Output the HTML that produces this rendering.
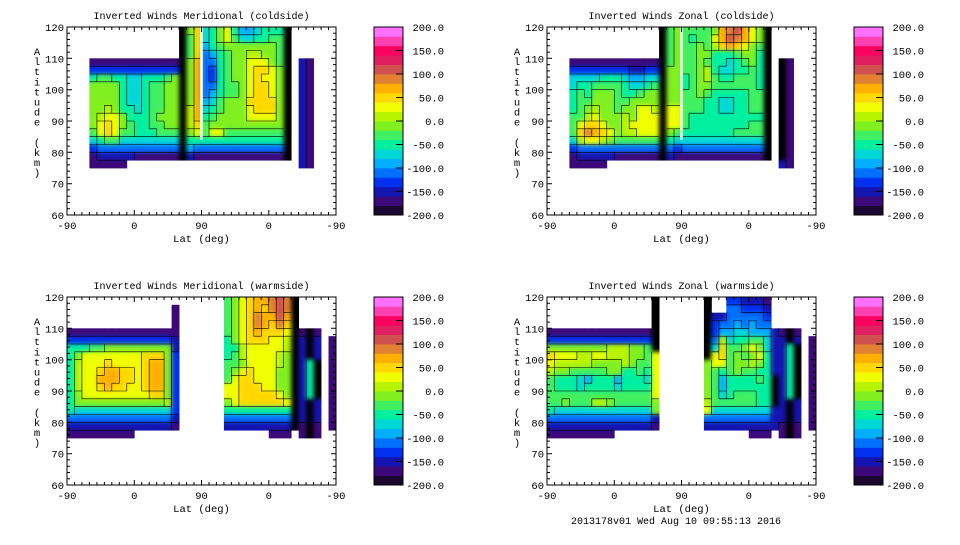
<!DOCTYPE html>
<html>
<head>
<meta charset="utf-8">
<style>
  html, body { margin: 0; padding: 0; background: #fff; }
  body { width: 960px; height: 540px; overflow: hidden; }
  svg text { font-family: "Liberation Mono", monospace; fill: #000; }
</style>
</head>
<body>
<svg id="fig" width="960" height="540" viewBox="0 0 960 540" xmlns="http://www.w3.org/2000/svg">
  <defs>
    <filter id="smooth" x="0" y="0" width="100%" height="100%" color-interpolation-filters="sRGB">
      <feGaussianBlur in="SourceGraphic" stdDeviation="2.2" result="b"/>
      <feComponentTransfer in="b" result="bo">
        <feFuncA type="linear" slope="30" intercept="0"/>
      </feComponentTransfer>
      <feComposite in="bo" in2="SourceAlpha" operator="in"/>
    </filter>
  </defs>
  <rect x="0" y="0" width="960" height="540" fill="#fff"/>
  <text x="676" y="524" font-size="10" text-anchor="middle">2013178v01 Wed Aug 10 09:55:13 2016</text>
</svg>
<script>
// ---- chart data ----
// band codes: 0..9,a..j = colour band index (band i covers -200+20i .. -180+20i), '.' = no data, 'k' = dense contours (black)
const panelTitles = ["Inverted Winds Meridional (coldside)", "Inverted Winds Zonal (coldside)", "Inverted Winds Meridional (warmside)", "Inverted Winds Zonal (warmside)"];
const xTickLabels = ["-90", "0", "90", "0", "-90"];
const xTickPositions = [0, 90, 180, 270, 360];
const yTickLabels = ["60", "70", "80", "90", "100", "110", "120"];
const yTickValues = [60, 70, 80, 90, 100, 110, 120];
const colorbarLabels = ["200.0", "150.0", "100.0", "50.0", "0.0", "-50.0", "-100.0", "-150.0", "-200.0"];
const colorbarValues = [200, 150, 100, 50, 0, -50, -100, -150, -200];
const bandColors = ["#1a0830", "#3c0a78", "#1414b0", "#0030f0", "#0070ff", "#00b0ff", "#00d8d8", "#00f0a0", "#40f060", "#80f020",
                    "#b8f400", "#f0ff00", "#ffd800", "#ffb000", "#e08030", "#d05050", "#e02060", "#ff0060", "#ff40b0", "#ff70ff"];

const meridionalCold = [
  "..." + "............" + "k9c" + "679b7556777k" + "." + ".." + "...",
  "..." + "............" + "k8c" + "679b8667788k" + "." + ".." + "...",
  "..." + "............" + "k8c" + "57899999998k" + "." + ".." + "...",
  "..." + "............" + "k8c" + "457899aa998k" + "." + ".." + "...",
  "..." + "111111111111" + "k9d" + "447899bbb98k" + "." + "21" + "...",
  "..." + "333333333333" + "k9d" + "437899bccb9k" + "." + "21" + "...",
  "..." + "788776677789" + "k9d" + "437899bcbb9k" + "." + "21" + "...",
  "..." + "999976678899" + "k9d" + "447889bccb9k" + "." + "21" + "...",
  "..." + "999976678899" + "k9d" + "457889bccb9k" + "." + "21" + "...",
  "..." + "999976678899" + "k9d" + "568999cccc9k" + "." + "21" + "...",
  "..." + "99a977678899" + "kad" + "678999bccc9k" + "." + "21" + "...",
  "..." + "9abb97778999" + "kad" + "789999bbbb9k" + "." + "21" + "...",
  "..." + "9bcb98778899" + "kac" + "89999999999k" + "." + "21" + "...",
  "..." + "8bcb88777888" + "k9b" + "8bb88888888k" + "." + "21" + "...",
  "..." + "678866666666" + "k77" + "77777777777k" + "." + "21" + "...",
  "..." + "344444444444" + "k54" + "44444444444k" + "." + "21" + "...",
  "..." + "122222111111" + "k21" + "11111111111k" + "." + "21" + "...",
  "..." + "11111......." + "..." + "............" + "." + "21" + "..."
];
const zonalCold = [
  "..." + "............" + "k89" + "88889defdb9k" + "." + ".." + "...",
  "..." + "............" + "k89" + "8788bdfedb9k" + "." + ".." + "...",
  "..." + "............" + "k89" + "8898acdcb98k" + "." + ".." + "...",
  "..." + "............" + "k89" + "88997778997k" + "." + ".." + "...",
  "..." + "111111111111" + "k89" + "88987767897k" + "." + "k1" + "...",
  "..." + "333333332233" + "k99" + "889a7667787k" + "." + "k1" + "...",
  "..." + "666677765566" + "k99" + "789a8778887k" + "." + "k1" + "...",
  "..." + "677888876678" + "k99" + "78998888887k" + "." + "k1" + "...",
  "..." + "787999877899" + "k99" + "88987777788k" + "." + "k1" + "...",
  "..." + "788999889999" + "k99" + "88877667788k" + "." + "k1" + "...",
  "..." + "789a99899bba" + "kbb" + "88877667788k" + "." + "k1" + "...",
  "..." + "88ab999a9bbb" + "kbb" + "87777777777k" + "." + "k1" + "...",
  "..." + "8bccb99abbbb" + "kbb" + "87777777788k" + "." + "k1" + "...",
  "..." + "8cedcb9aabbb" + "k98" + "77777778888k" + "." + "k1" + "...",
  "..." + "6abba9888888" + "k76" + "66666666666k" + "." + "k1" + "...",
  "..." + "344444444444" + "k43" + "44444444444k" + "." + "k1" + "...",
  "..." + "122222111111" + "k21" + "11111111111k" + "." + "k1" + "...",
  "..." + "11111......." + "..." + "............" + "." + "21" + "..."
];
const meridionalWarm = [
  ".............." + "." + "......" + "89bcddefe" + "k" + ".....",
  ".............." + "1" + "......" + "89bcdcefe" + "k" + ".....",
  ".............." + "1" + "......" + "89bceddfd" + "k" + ".....",
  ".............." + "1" + "......" + "89bcedcec" + "k" + ".....",
  "111111111111111" + "......" + "89bcdcccb" + "k" + "1k1..",
  "333333333333332" + "......" + "79bcccbba" + "k" + "2k2.1",
  "777889999999992" + "......" + "77abbbbba" + "k" + "2k2.1",
  "79bbbbbbbbccc93" + "......" + "78abbbba9" + "k" + "2k2.1",
  "7abbbcbbbbcdd93" + "......" + "889bbbba9" + "k" + "27k.1",
  "7abbcddccbcdd93" + "......" + "89bcbbb99" + "k" + "27k.1",
  "7abbdddccbcdd93" + "......" + "8bccbbb99" + "k" + "27k.1",
  "7abbcdccbbcdd93" + "......" + "bbcccbb99" + "k" + "27k.1",
  "79bbbbbbbbbcc93" + "......" + "bbcccccb9" + "k" + "27k.1",
  "7999999999999a3" + "......" + "9bccccccb" + "k" + "2k2.1",
  "766666666666663" + "......" + "777777777" + "k" + "2k2.1",
  "444444444444442" + "......" + "444444444" + "k" + "2k2.1",
  "222222222222221" + "......" + "222222222" + "k" + "1k1.1",
  "111111111......" + "......" + "......111" + "." + "1k1.."
];
const zonalWarm = [
  "..............k" + "......" + "k..332221" + "." + ".....",
  "..............k" + "......" + "k..443332" + "." + ".....",
  "..............k" + "......" + "k22444443" + "." + ".....",
  "..............k" + "......" + "k34454544" + "." + ".....",
  "11111111111111k" + "......" + "k35566555" + "2" + "1k1..",
  "33333333333333k" + "......" + "k4a677886" + "2" + "2k2.1",
  "99999999aaa998k" + "......" + "k6c889b96" + "2" + "27k.1",
  "cbbbaabbaaa998b" + "......" + "kbc8989b7" + "2" + "27k.1",
  "baaaaa9999a988b" + "......" + "9bb899a97" + "2" + "27k.1",
  "a9988888997787b" + "......" + "987898877" + "2" + "27k.1",
  "87776577757776b" + "......" + "985777787" + "k" + "27k.1",
  "87776777767777b" + "......" + "985777777" + "k" + "27k.1",
  "88888888888888b" + "......" + "986788877" + "k" + "27k.1",
  "889888aa9888889" + "......" + "a88888877" + "k" + "2k2.1",
  "766666666666669" + "......" + "b66666666" + "2" + "2k2.1",
  "444444444444442" + "......" + "444444444" + "2" + "2k2.1",
  "222222222222221" + "......" + "222222222" + "2" + "1k1.1",
  "111111111......" + "......" + "......111" + "." + "1k1.."
];
const panelGrids = [meridionalCold, zonalCold, meridionalWarm, zonalWarm];

// ---- layout ----
const NS = "http://www.w3.org/2000/svg";
const svg = document.getElementById("fig");
const panelOrigins = [[67, 27], [547, 27], [67, 297], [547, 297]];
const PW = 269, PH = 188;
const CODES = "0123456789abcdefghij";
const NCOL = 36, NROW = 18, DU = 10, DA = 2.5;

function mk(tag, attrs, parent) {
  const e = document.createElementNS(NS, tag);
  for (const k in attrs) e.setAttribute(k, attrs[k]);
  (parent || svg).appendChild(e);
  return e;
}
function codeColor(ch) {
  if (ch === "k") return "#000";
  const i = CODES.indexOf(ch);
  return i >= 0 ? bandColors[i] : null;
}

panelGrids.forEach(function (grid, p) {
  const x0 = panelOrigins[p][0], y0 = panelOrigins[p][1];
  const xS = function (u) { return x0 + u / 360 * PW; };
  const yS = function (a) { return y0 + (120 - a) / 60 * PH; };
  const g = mk("g", {});
  
  
  const fillG = mk("g", { filter: "url(#smooth)" }, g);

  const cell = function (r, c) {
    if (r < 0 || r >= NROW || c < 0 || c >= NCOL) return ".";
    const row = grid[r] || "";
    return row.charAt(c) || ".";
  };
  for (let r = 0; r < NROW; r++) {
    for (let c = 0; c < NCOL; c++) {
      const col = codeColor(cell(r, c));
      if (!col) continue;
      const x1 = xS(c * DU), x2 = xS((c + 1) * DU);
      const yTop = yS(120 - r * DA), yBot = yS(120 - (r + 1) * DA);
      const rc = mk("rect", { x: x1.toFixed(2), y: yTop.toFixed(2), width: (x2 - x1 + 0.4).toFixed(2), height: (yBot - yTop + 0.4).toFixed(2), fill: col }, fillG);
      
      
    }
  }
  let d = "";
  for (let r = 0; r < NROW; r++) {
    for (let c = 0; c < NCOL; c++) {
      const a = cell(r, c);
      if (a === "." || a === "k") continue;
      const b = cell(r, c + 1);
      if (b !== "." && b !== "k" && b !== a) {
        const x = xS((c + 1) * DU);
        d += "M" + x.toFixed(1) + " " + yS(120 - r * DA).toFixed(1) + "V" + yS(120 - (r + 1) * DA).toFixed(1);
      }
      const e = cell(r + 1, c);
      if (e !== "." && e !== "k" && e !== a) {
        const y = yS(120 - (r + 1) * DA);
        d += "M" + xS(c * DU).toFixed(1) + " " + y.toFixed(1) + "H" + xS((c + 1) * DU).toFixed(1);
      }
    }
  }
  const cl = mk("path", { d: d, stroke: "#000", "stroke-width": "0.6", fill: "none" }, g);
  
  

  if (p < 2) {
    const gap = mk("line", { x1: xS(180), x2: xS(180), y1: yS(120), y2: yS(84), stroke: "#fff", "stroke-width": "2.5" }, g);
    
    
  }

  const frame = mk("rect", { x: x0, y: y0, width: PW, height: PH, fill: "none", stroke: "#000", "stroke-width": "1" });
  
  

  let td = "";
  for (let u = 0; u <= 360; u += 10) {
    const major = (u % 90 === 0), L = major ? 5 : 3, x = xS(u).toFixed(1);
    td += "M" + x + " " + (y0 + PH) + "v-" + L + "M" + x + " " + y0 + "v" + L;
  }
  for (let a = 60; a <= 120; a += 2) {
    const major = (a % 10 === 0), L = major ? 5 : 3, y = yS(a).toFixed(1);
    td += "M" + x0 + " " + y + "h" + L + "M" + (x0 + PW) + " " + y + "h-" + L;
  }
  const ticks = mk("path", { d: td, stroke: "#000", "stroke-width": "1", fill: "none" });
  
  

  xTickLabels.forEach(function (lab, i) {
    const t = mk("text", { x: xS(xTickPositions[i]), y: y0 + PH + 14, "font-size": "10.5", "text-anchor": "middle" });
    t.textContent = lab;
    
    
  });
  yTickLabels.forEach(function (lab, i) {
    const t = mk("text", { x: x0 - 3, y: yS(yTickValues[i]) + 4, "font-size": "10.5", "text-anchor": "end" });
    t.textContent = lab;
    
    
  });
  const xt = mk("text", { x: x0 + PW / 2, y: y0 + PH + 27, "font-size": "10.5", "text-anchor": "middle" });
  xt.textContent = "Lat (deg)";
  
  

  const yt = mk("text", { "font-size": "10.5", "text-anchor": "middle" });
  
  
  "Altitude (km)".split("").forEach(function (ch, i) {
    const ts = mk("tspan", { x: x0 - 30, y: y0 + 28 + i * 10.1 }, yt);
    ts.textContent = ch;
  });

  const title = mk("text", { x: x0 + PW / 2, y: y0 - 8, "font-size": "10", "text-anchor": "middle" });
  title.textContent = panelTitles[p];
  
  

  const cbx = x0 + 307, cbw = 29, cbTop = y0, cbBot = y0 + PH;
  const cS = function (v) { return cbBot - (v + 200) / 400 * (cbBot - cbTop); };
  const cb = mk("g", {});
  
  
  bandColors.forEach(function (col, i) {
    const v1 = -200 + i * 20, v2 = v1 + 20;
    const r = mk("rect", { x: cbx, y: cS(v2).toFixed(2), width: cbw, height: (cS(v1) - cS(v2) + 0.4).toFixed(2), fill: col }, cb);
    
    
  });
  mk("rect", { x: cbx, y: cbTop, width: cbw, height: cbBot - cbTop, fill: "none", stroke: "#000", "stroke-width": "1" }, cb);
  let cd = "";
  colorbarValues.forEach(function (v) { cd += "M" + (cbx + cbw) + " " + cS(v).toFixed(1) + "h-7"; });
  mk("path", { d: cd, stroke: "#000", "stroke-width": "1" }, cb);
  colorbarLabels.forEach(function (lab, i) {
    const t = mk("text", { x: cbx + 70, y: cS(colorbarValues[i]) + 4, "font-size": "10.5", "text-anchor": "end" }, cb);
    t.textContent = lab;
    
    
  });
});
</script>
</body>
</html>
